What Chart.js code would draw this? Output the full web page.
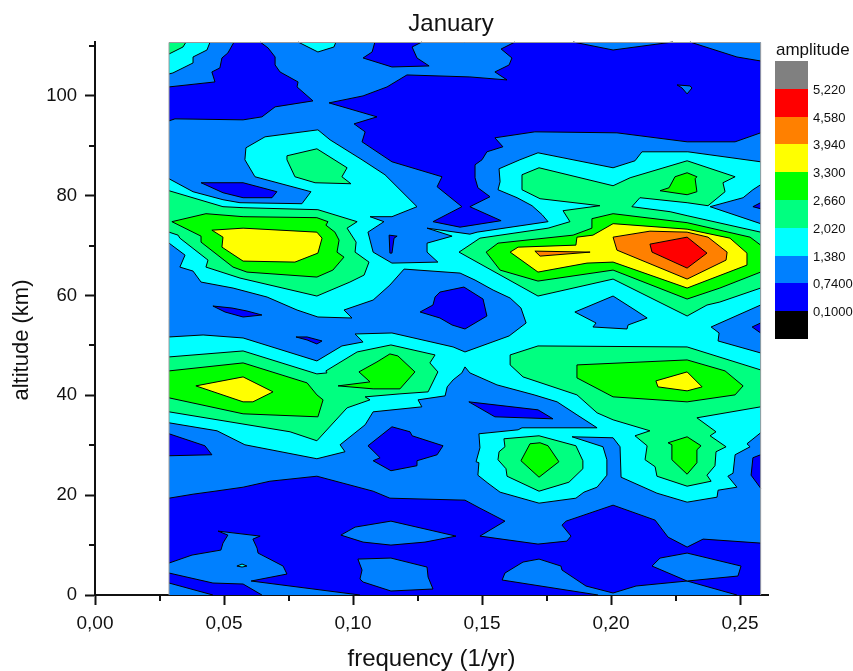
<!DOCTYPE html>
<html><head><meta charset="utf-8">
<style>html,body{margin:0;padding:0;background:#fff}canvas{display:block}</style>
<script src="https://cdn.jsdelivr.net/npm/chart.js@4/dist/chart.umd.min.js"></script>
</head><body><canvas id="c" width="853" height="671"></canvas>
<script>
const chartTitle = 'January';
const xTitle = 'frequency (1/yr)';
const yTitle = 'altitude (km)';
const legendTitle = 'amplitude';
const levelColors = ['#000000','#0000ff','#0080ff','#00ffff','#00ff80','#00ff00','#ffff00','#ff8000','#ff0000','#808080'];
const levelLabels = ['0,1000','0,7400','1,380','2,020','2,660','3,300','3,940','4,580','5,220'];
const minorX = [0.025,0.075,0.125,0.175,0.225];
const minorY = [10,30,50,70,90,110];
const fL = 0.0287, fR = 0.258, aT = 110.8;

// contour regions in paint order: [level index, [frequency, altitude, ...]]
const regions = [
[2,[fL,0,fR,0,fR,aT,fL,aT]],
[1,[.0287,101.8,.0465,102.8,.0453,104.8,.0484,105.6,.0492,107.6,.0515,108.6,.0539,110.8,.0640,110.8,.0671,109.6,.0698,107.8,.0698,106.2,.0717,104.8,.0787,102.8,.0783,101.8,.0845,99,.0698,97.8,.0647,95.8,.0574,95.2,.0310,95.4,.0287,95]],
[1,[.0907,98.6,.1039,100,.1132,101.8,.1209,104.2,.1453,103.8,.1597,103.2,.1550,104.8,.1605,106.2,.1616,107.6,.1574,109.4,.1628,110.8,.1853,110.8,.2008,109.2,.2240,110.8,.2306,110.8,.2488,107.8,.258,107,.258,92.6,.2481,90.8,.2295,90.8,.2023,92.6,.1705,92.8,.1550,91.6,.1581,89.8,.1519,88.8,.1500,87.2,.1473,86.2,.1473,83.6,.1484,81.6,.1531,79.8,.1453,77.8,.1574,75,.1415,73.7,.1310,74.8,.1422,77.8,.1326,81.8,.1345,83.8,.1151,86.8,.1035,90.8,.1047,92.8,.1004,94.4,.1093,95.8]],
[2,[.2256,102.2,.2306,102,.2314,101.6,.2295,100.4,.2275,101.6]],
[1,[.1085,110.8,.1267,110.8,.1229,109.8,.1248,107.6,.1295,106,.1151,105.8,.1039,107.6,.1074,108.8]],
[1,[.0411,82.6,.0574,82.6,.0705,80.8,.0686,79.6,.0574,79.6,.0496,80.6]],
[1,[.0287,19.4,.0380,20.2,.0465,20.8,.0574,21.6,.0678,22.8,.0860,23.8,.1078,20.8,.1143,19.4,.1434,19,.1492,17.4,.1589,14.8,.1492,11.8,.1717,10.2,.1829,10.8,.1845,11.8,.1810,14,.1826,14.8,.2008,18,.2171,15,.2221,11.6,.2295,9.6,.2357,11.2,.258,10.4,.258,0,.0287,0]],
[2,[.0287,6.4,.0376,8,.0488,9,.0496,10.4,.0515,12,.0477,12.8,.0640,11.8,.0612,11.2,.0628,9.4,.0632,8.4,.0729,5.8,.0744,4.2,.0605,2.8,.1027,0,.0647,0,.0574,2.2,.0457,2.4,.0287,4.4]],
[2,[.0287,2.4,.0457,0,.0287,0]],
[3,[.0550,5.8,.0570,6.2,.0589,5.8,.0570,5.6]],
[2,[.0953,12,.1008,13.6,.1147,14.8,.1399,11.8,.1279,10.6,.1147,10,.1039,10.6]],
[2,[.1019,7.2,.1147,7.4,.1287,5.6,.1291,3.6,.1310,1.2,.1147,.8,.1039,2.6,.1027,3.2,.1035,5]],
[2,[.1578,3,.1589,4.4,.1659,6.6,.1721,7.2,.1806,5.8,.1810,5,.1903,1.8,.2008,.4,.2097,1.8,.2295,2.8,.2488,0,.1950,0]],
[2,[.2159,5.8,.2190,7.4,.2295,8.4,.2504,5.8,.2492,3.8,.2295,2.8]],
[3,[.0287,104.4,.0302,104.6,.0380,106.6,.0380,107.8,.0434,109.2,.0446,110.8,.0287,110.8]],
[4,[.0287,110.8,.0353,110.8,.0341,109.8,.0287,108.4]],
[3,[.0787,110.8,.0934,110.8,.0926,109.8,.0864,108.8]],
[3,[.0287,83.4,.0380,80.8,.0496,79.2,.0562,78.6,.0802,78.4,.0837,80.8,.0620,83.8,.0581,87.2,.0585,89.6,.0659,91.8,.0864,93.2,.0911,91.2,.1035,87.2,.1124,84.2,.1248,77.8,.1151,75.8,.1066,75.8,.1120,74.8,.1058,72.7,.1078,68.7,.1151,66.5,.1329,66.7,.1287,68.7,.1287,70.5,.1384,71.9,.1287,73.5,.1453,72.3,.1481,72.7,.1756,74.8,.1733,76.2,.1694,78,.1636,79.6,.1562,81.2,.1570,82.8,.1566,85.4,.1647,87.2,.1717,88.6,.2008,85.6,.2093,87,.2120,88.8,.2298,88.8,.258,86.8,.258,32.5,.2527,30.3,.2539,29.7,.2481,28.1,.2473,24.4,.2453,23.8,.2488,21.6,.2415,21,.2411,19.6,.2295,18.6,.2178,20.4,.2039,23.6,.2035,29.7,.2008,31.5,.1849,31.7,.1969,29.7,.1984,27.1,.1984,24,.1946,21.6,.1895,20.6,.1864,19.4,.1721,18.4,.1570,20.6,.1523,22.4,.1484,24,.1488,26.5,.1477,26.7,.1492,29.5,.1488,32.3,.1640,33.1,.1655,33.5,.1946,33.5,.1868,36.1,.1791,38.7,.1702,40.1,.1558,42.1,.1453,44.5,.1434,45.7,.1422,44.5,.1388,43.1,.1365,41.7,.1357,39.9,.1252,39.1,.1267,37.7,.1078,36.7,.1047,34.1,.0950,30.1,.0969,28.7,.0860,27.3,.0581,30.1,.0473,32.9,.0287,34.5]],
[2,[.0287,70.5,.0349,68.1,.0329,65.7,.0380,64.9,.0411,62.7,.0535,61.5,.0667,59.7,.0783,57.1,.0864,55.7,.0996,55.5,.0965,57.1,.1078,59.1,.1143,62.1,.1198,65.3,.1415,64.5,.1473,63.1,.1543,61.1,.1609,59.5,.1651,57.5,.1671,54.5,.1605,51.9,.1434,48.7,.1388,49.7,.1151,52.5,.1008,52.3,.1039,50.7,.0957,49.9,.0860,46.9,.0574,51.5,.0419,52.1,.0287,51.7]],
[2,[.2384,77.8,.2512,79.6,.2550,81.2,.258,82.2,.258,74.4]],
[2,[.2388,53.7,.258,58.1,.258,48.5,.2415,50.9,.2419,52.5]],
[2,[.1860,56.7,.2008,59.9,.2093,57.1,.2140,55.5,.2066,54.1,.2062,53.3,.1930,53.7,.1942,54.5]],
[1,[.2550,77.8,.258,78.6,.258,77.4]],
[1,[.1140,72.1,.1171,71.9,.1159,71.5,.1151,68.5,.1143,68.5]],
[1,[.0457,57.9,.0531,57.5,.0589,56.9,.0647,56.1,.0574,55.7,.0504,56.7]],
[1,[.0779,51.7,.0822,51.7,.0880,50.9,.0860,50.3,.0822,51.1]],
[1,[.1260,56.7,.1310,58.1,.1318,59.7,.1337,60.7,.1430,61.7,.1504,59.3,.1519,55.9,.1434,53.3,.1384,54.1,.1337,55.5]],
[1,[.2547,53.7,.258,54.5,.258,52.5]],
[1,[.1449,38.7,.1717,37.1,.1775,35.3,.1550,35.7]],
[1,[.0287,32.3,.0426,29.9,.0453,28.1,.0287,27.9]],
[1,[.1058,29.9,.1151,33.7,.1221,32.7,.1229,31.9,.1349,29.9,.1326,28.1,.1248,26.9,.1248,25.9,.1147,24.9,.1078,26.9,.1105,27.5]],
[1,[.258,28.1,.2550,27.5,.2543,24,.258,21.4]],
[4,[.0744,88,.0860,89.4,.0977,85.6,.0957,83.8,.0992,82.4,.0853,82.6,.0775,83.8,.0744,87.2]],
[4,[.0287,81,.0496,77.8,.0574,77.6,.0864,77.2,.1016,74.8,.0977,73.5,.1012,70.7,.1008,68.7,.1062,66.7,.1043,64.1,.0988,62.7,.0860,59.9,.0562,63.5,.0430,65.7,.0438,67.1,.0329,71.5,.0322,72.1,.0287,72.7]],
[5,[.0298,74.8,.0430,76.4,.0574,75.8,.0860,75.6,.0903,74.8,.0895,74.1,.0930,72.7,.0946,71.1,.0938,68.7,.0965,67.7,.0922,65.1,.0860,63.7,.0589,64.7,.0535,65.7,.0411,70.7,.0411,71.9]],
[6,[.0453,73.1,.0574,73.5,.0860,72.7,.0880,71.5,.0864,68.5,.0775,66.7,.0574,66.9,.0492,69.7,.0496,71.7]],
[4,[.0287,47.7,.0574,48.9,.0860,44.3,.0899,44.5,.0895,44.9,.1016,48.7,.1147,50.1,.1318,48.1,.1298,46.5,.1329,44.7,.1291,40.7,.1182,40.3,.1047,39.7,.1066,39.1,.0977,37.5,.0860,30.9,.0756,32.7,.0287,36.7]],
[5,[.0287,44.9,.0574,46.5,.0822,42.5,.0860,40.1,.0884,39.1,.0864,35.7,.0574,36.3,.0287,39.5]],
[6,[.0391,41.9,.0574,43.7,.0690,40.7,.0612,38.7,.0574,38.7]],
[5,[.0942,41.9,.1066,42.7,.1023,44.7,.1093,46.7,.1143,48.3,.1174,47.9,.1240,44.7,.1182,41.3,.1078,41.3]],
[4,[.1655,84.2,.1721,85.6,.2008,82,.2074,83.6,.2295,87,.2481,83.8,.2434,82.6,.2442,80.8,.2376,78,.2295,78.6,.2112,79.6,.2081,77.8,.2229,76.8,.2295,76,.258,72.7,.258,61.5,.2422,58.7,.2372,58.1,.2295,55.9,.2008,63.3,.1717,59.9,.1411,68.7,.1492,71.5,.1756,73.5,.1841,74.8,.1814,77,.1957,78,.1725,79.4,.1655,81.2]],
[5,[.2190,81,.2225,81.6,.2248,83.8,.2295,84.6,.2333,83.8,.2326,83.4,.2333,80.8,.2295,80.2]],
[5,[.1516,68.7,.1562,70.5,.1853,72.1,.1926,73.5,.1926,75.4,.2008,76.4,.2295,74.6,.2539,71.7,.258,70.1,.258,64.7,.2422,61.5,.2295,59.3,.2008,65.1,.1717,62.9,.1570,65.1]],
[6,[.1609,68.7,.1640,69.7,.1864,70.1,.1868,71.7,.1930,72.1,.2008,74.4,.2295,73.3,.2461,71.5,.2527,68.5,.2527,66.1,.2295,61.5,.2008,66.7,.1907,66.5,.1717,64.7]],
[7,[.2008,71.7,.2151,72.9,.2295,72.7,.2376,71.7,.2450,68.7,.2446,67.1,.2295,63.3,.2023,69.1]],
[8,[.2151,70.3,.2295,71.7,.2372,68.5,.2295,65.5,.2159,68.7]],
[7,[.1705,68.9,.1919,68.7,.1725,67.9]],
[4,[.1609,48.1,.1717,49.9,.2295,49.7,.258,45.1,.258,37.7,.2333,35.5,.2407,32.7,.2384,31.9,.2446,29.7,.2407,28.7,.2403,25.9,.2372,24,.2388,22.8,.2295,21.8,.2178,23.8,.2171,25.7,.2132,27.1,.2140,29.9,.2093,31.9,.2151,32.9,.2008,35.1,.1946,36.5,.1868,40.1,.1659,43.7,.1609,46.1]],
[5,[.1868,46.1,.2295,47.1,.2442,44.9,.2512,41.9,.2481,40.1,.2295,38.7,.2008,39.7,.1868,43.5]],
[6,[.2174,42.9,.2295,44.7,.2353,41.7,.2295,40.9,.2182,41.7]],
[4,[.1585,31.3,.1721,31.9,.1864,29.9,.1891,26.9,.1891,25.3,.1837,22.6,.1721,20.8,.1597,23.8,.1593,25.3,.1562,27.1,.1566,28.7,.1589,29.7]],
[5,[.1686,30.3,.1725,30.5,.1756,29.9,.1798,26.7,.1721,23.6,.1651,26.9]],
[5,[.2221,30.5,.2295,31.7,.2349,29.9,.2333,29.1,.2333,26.5,.2295,24.2,.2236,27.1,.2236,30.1]]
];

const onEdge = (a, b) => (a.x === b.x && (a.x === fL || a.x === fR)) || (a.y === b.y && (a.y === 0 || a.y === aT));

const datasets = regions.map(([lvl, flat], i) => {
  const data = [];
  for (let k = 0; k < flat.length; k += 2) data.push({x: flat[k], y: flat[k + 1]});
  data.push(data[0]);
  return {
    data, order: -i, showLine: true, fill: false, pointRadius: 0, pointHoverRadius: 0, tension: 0,
    backgroundColor: levelColors[lvl], borderColor: '#000', borderWidth: 0
  };
});

const FONT = '"Liberation Sans", Arial, sans-serif';

// paints each region from the points that Chart.js placed through its scales
const regionFill = {
  id: 'regionFill',
  beforeDatasetDraw(chart, args) {
    const ctx = chart.ctx, pts = args.meta.data, src = chart.data.datasets[args.index];
    ctx.save();
    ctx.beginPath();
    pts.forEach((p, k) => k ? ctx.lineTo(p.x, p.y) : ctx.moveTo(p.x, p.y));
    ctx.closePath();
    ctx.fillStyle = src.backgroundColor;
    ctx.fill();
    if (args.index > 0) {
      ctx.beginPath();
      for (let k = 1; k < pts.length; k++) {
        if (onEdge(src.data[k - 1], src.data[k])) continue;
        ctx.moveTo(pts[k - 1].x, pts[k - 1].y);
        ctx.lineTo(pts[k].x, pts[k].y);
      }
      ctx.lineWidth = 1; ctx.strokeStyle = '#000'; ctx.lineJoin = 'round';
      ctx.stroke();
    }
    ctx.restore();
  }
};

const decorations = {
  id: 'decorations',
  afterDraw(chart) {
    const ctx = chart.ctx, sx = chart.scales.x, sy = chart.scales.y;
    ctx.save();
    // thin grey frame of the contour area
    const pl = sx.getPixelForValue(fL), pr = sx.getPixelForValue(fR), pt = sy.getPixelForValue(aT), pb = sy.getPixelForValue(0);
    ctx.strokeStyle = '#999'; ctx.lineWidth = 1;
    ctx.beginPath();
    ctx.moveTo(pl, pb); ctx.lineTo(pl, pt + 0.5); ctx.lineTo(pr, pt + 0.5); ctx.lineTo(pr, pb);
    ctx.stroke();
    // minor ticks
    ctx.strokeStyle = '#111'; ctx.lineWidth = 2;
    ctx.beginPath();
    minorX.forEach(v => { const p = Math.round(sx.getPixelForValue(v)); ctx.moveTo(p, sy.bottom); ctx.lineTo(p, sy.bottom + 6); });
    minorY.forEach(v => { const p = Math.round(sy.getPixelForValue(v)); ctx.moveTo(sx.left, p); ctx.lineTo(sx.left - 6, p); });
    ctx.stroke();
    // plot title and y title
    ctx.fillStyle = '#111'; ctx.textAlign = 'center'; ctx.textBaseline = 'middle';
    ctx.font = '24px ' + FONT;
    ctx.fillText(chartTitle, 451, 24);
    ctx.save();
    ctx.translate(22, 340); ctx.rotate(-Math.PI / 2);
    ctx.font = '22px ' + FONT;
    ctx.fillText(yTitle, 0, 0);
    ctx.restore();
    // colour key
    const top = 61, h = 27.8, kx = 775, kw = 33;
    ctx.font = '17px ' + FONT; ctx.textAlign = 'left';
    ctx.fillText(legendTitle, 776, 50);
    levelColors.slice().reverse().forEach((c, i) => {
      ctx.fillStyle = c;
      ctx.fillRect(kx, Math.round(top + i * h), kw, Math.round(top + (i + 1) * h) - Math.round(top + i * h));
    });
    ctx.fillStyle = '#111'; ctx.font = '13px ' + FONT;
    levelLabels.slice().reverse().forEach((t, i) => ctx.fillText(t, 813, top + (i + 1) * h + 1.5));
    ctx.restore();
  }
};

new Chart(document.getElementById('c'), {
  type: 'scatter',
  data: {datasets},
  plugins: [regionFill, decorations],
  options: {
    responsive: false, animation: false, events: [],
    layout: {padding: {top: 42, right: 85, left: 0, bottom: 0}},
    plugins: {legend: {display: false}, tooltip: {enabled: false}, title: {display: false}},
    scales: {
      x: {
        type: 'linear', min: 0, max: 0.26085,
        afterFit: s => { s.height = 76; },
        border: {color: '#111', width: 2},
        grid: {drawOnChartArea: false, color: '#111', tickColor: '#111', tickLength: 10, tickWidth: 2},
        ticks: {stepSize: 0.05, includeBounds: false, maxRotation: 0, padding: 7, color: '#111',
          font: {family: FONT, size: 19}, callback: v => v.toFixed(2).replace('.', ',')},
        title: {display: true, text: xTitle, color: '#111', font: {family: FONT, size: 24, lineHeight: 1}, padding: {top: 0, bottom: 0}}
      },
      y: {
        type: 'linear', min: 0, max: aT,
        afterFit: s => { s.width = 95; },
        border: {color: '#111', width: 2},
        grid: {drawOnChartArea: false, color: '#111', tickColor: '#111', tickLength: 10, tickWidth: 2},
        ticks: {stepSize: 20, includeBounds: false, padding: 8, color: '#111',
          font: {family: FONT, size: 18.5}, callback: v => String(v)}
      }
    }
  }
});
</script></body></html>
